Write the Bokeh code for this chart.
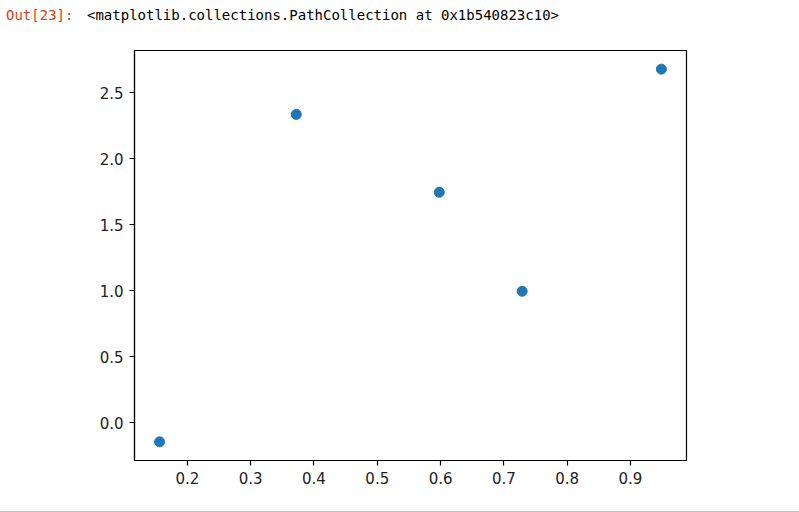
from bokeh.plotting import figure
from bokeh.models import Range1d, FixedTicker, PrintfTickFormatter, Div
from bokeh.layouts import column
from bokeh.embed import file_html
from bokeh.resources import INLINE

# data
xs = [0.156, 0.372, 0.598, 0.729, 0.949]
ys = [-0.146, 2.335, 1.745, 0.995, 2.678]
x_ticks = [0.2, 0.3, 0.4, 0.5, 0.6, 0.7, 0.8, 0.9]
y_ticks = [0.0, 0.5, 1.0, 1.5, 2.0, 2.5]
prompt = "Out[23]:"
repr_text = "&lt;matplotlib.collections.PathCollection at 0x1b540823c10&gt;"

# matplotlib-like 5% margins
xr = max(xs) - min(xs)
yr = max(ys) - min(ys)

top = Div(
    text=(
        f"<div style='white-space:nowrap;margin-left:6px;padding-top:7px;line-height:16px;'>"
        f"<span style='display:inline-block;width:81px;color:#d84315;'>{prompt}</span>"
        f"<span style='color:#000000;'>{repr_text}</span></div>"
    ),
    width=799, height=42, margin=0,
    styles={"font-family": "DejaVu Sans Mono", "font-size": "14px"},
)

p = figure(width=799, height=458, output_backend="svg", toolbar_location=None,
           x_range=Range1d(min(xs) - 0.05 * xr, max(xs) + 0.05 * xr),
           y_range=Range1d(min(ys) - 0.05 * yr, max(ys) + 0.05 * yr),
           min_border_left=134, min_border_right=113, min_border_top=8,
           min_border_bottom=40)
p.grid.visible = False
p.outline_line_color = "#000000"
p.outline_line_width = 1.2
p.background_fill_color = "white"
p.border_fill_color = "white"

p.scatter(xs, ys, size=10, color="#1f77b4", line_color="#1f77b4")

p.xaxis.ticker = FixedTicker(ticks=x_ticks)
p.yaxis.ticker = FixedTicker(ticks=y_ticks)
p.xaxis.formatter = PrintfTickFormatter(format="%.1f")
p.yaxis.formatter = PrintfTickFormatter(format="%.1f")
for ax in (p.xaxis, p.yaxis):
    ax.major_tick_in = 0
    ax.major_tick_out = 5
    ax.minor_tick_line_color = None
    ax.major_tick_line_width = 1.2
    ax.axis_line_width = 1.2
    ax.axis_line_color = "#000000"
    ax.major_tick_line_color = "#000000"
    ax.major_label_text_font = "DejaVu Sans"
    ax.major_label_text_font_size = "15px"
    ax.major_label_text_color = "#222222"
    ax.major_label_standoff = 6

bottom = Div(
    text="<div style='width:799px;height:8px;border-bottom:1px solid #a3d4aa;'></div>",
    width=799, height=12, margin=0,
)

layout = column(top, p, bottom, spacing=0)
open("out.html", "w").write(file_html(layout, INLINE))
